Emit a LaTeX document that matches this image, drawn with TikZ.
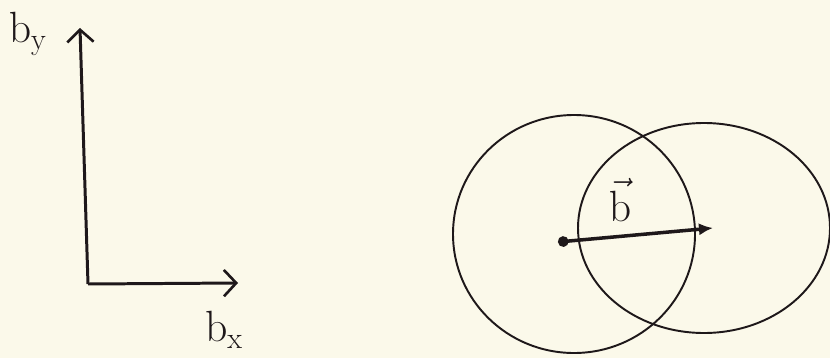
\documentclass[tikz,border=0pt]{standalone}
\usepackage{amsmath, amssymb}
\usepackage{xcolor}
\usetikzlibrary{arrows.meta, positioning, calc}

\definecolor{paper}{RGB}{251,249,234}
\definecolor{ink}{RGB}{30,24,26}

\begin{document}
\begin{tikzpicture}[
    x=0.02cm, y=-0.02cm,
    axis/.style={draw=ink, line width=1.7pt, -{Straight Barb[length=7pt, width=15pt, line width=1.5pt]}},
    ring/.style={draw=ink, line width=1.1pt},
    lbl/.style={text=ink, font=\fontsize{26}{30}\selectfont, inner sep=0pt},
]
% Paper
\fill [paper] (0,0) rectangle (830,358);
\useasboundingbox (0,0) rectangle (830,358);

% Axes
\coordinate (origin) at (88,284);
\coordinate (ytip) at (80,28);
\coordinate (xtip) at (238,283);
\draw [axis] (origin) -- (ytip);
\draw [axis] (origin) -- (xtip);
\node (by) [lbl] at (28,34) {$\mathrm{b}_\mathrm{y}$};
\node (bx) [lbl] at (224,330) {$\mathrm{b}_\mathrm{x}$};

% Circles
\coordinate (left) at (574,234);
\coordinate (right) at (704,228);
\draw [ring] (left) ellipse [x radius=121, y radius=119];
\draw [ring] (right) ellipse [x radius=126, y radius=105];

% Shift vector
\coordinate (tail) at (558,242);
\coordinate (head) at (713,228);
\draw [draw=ink, line width=2pt, {Circle[length=6pt]}-{Latex[length=8pt, width=7pt]}] (tail) -- (head);
\node (bvec) [lbl] at (620,200) {$\vec{\mathrm{b}}$};

\end{tikzpicture}
\end{document}
